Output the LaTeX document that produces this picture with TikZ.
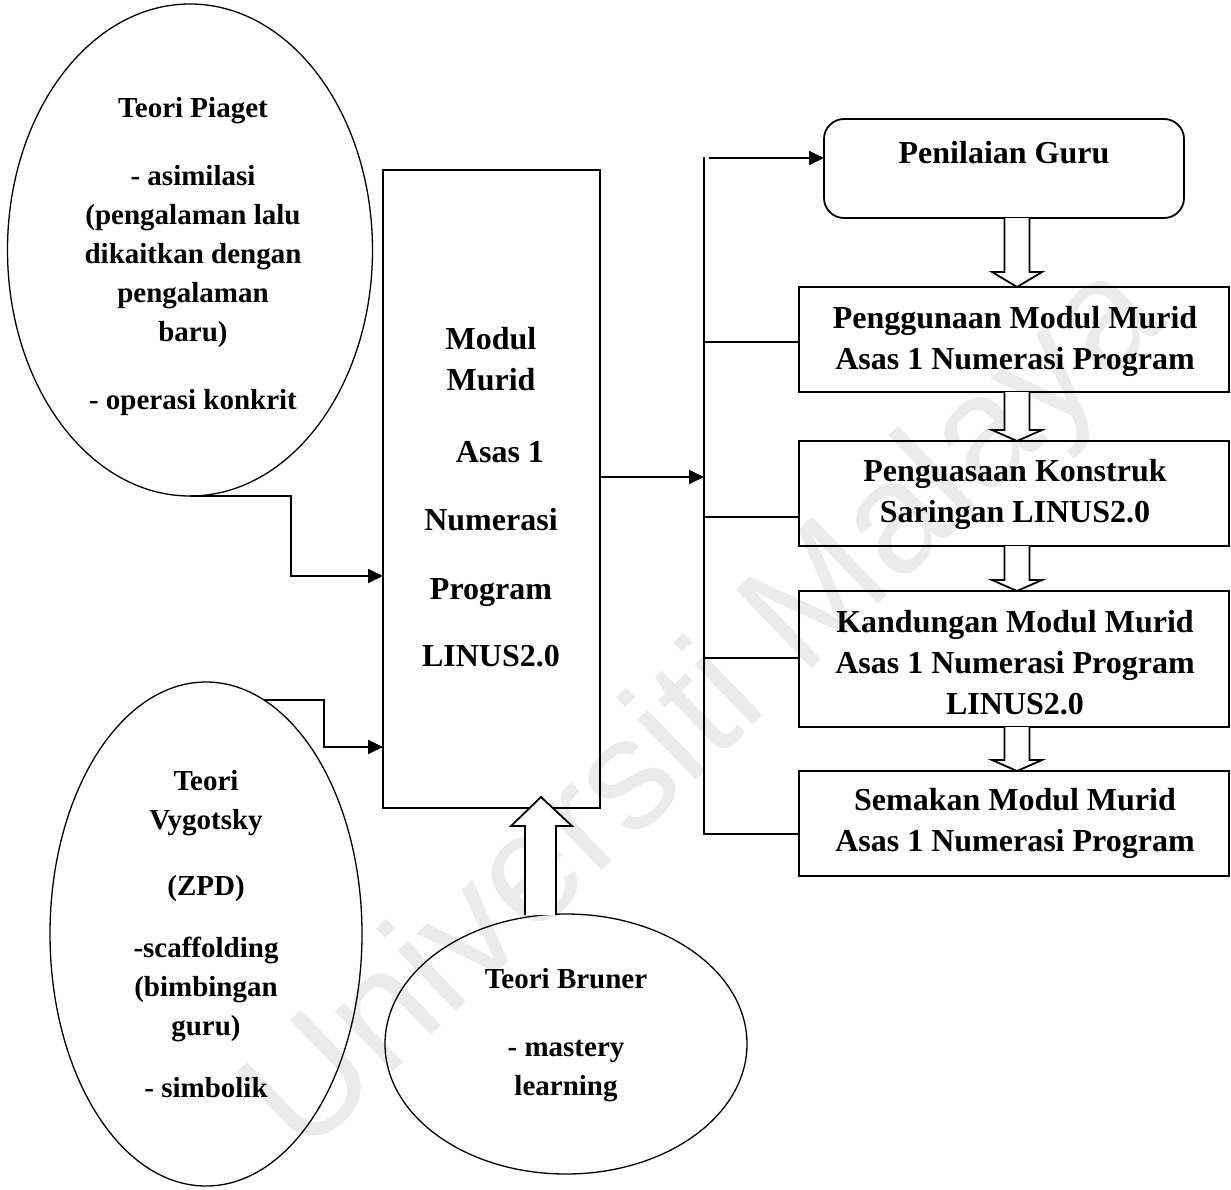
\documentclass[tikz,border=0pt]{standalone}
\usepackage{fontspec}
\setmainfont{Liberation Serif}
\setsansfont{Liberation Sans}
\usetikzlibrary{shapes.geometric,arrows.meta,calc}
\newcommand\dnblk[3]{\draw[blk] let \p1=(#1.south), \p2=(#2.north) in
  (1004.5pt,\y1) -- (1004.5pt,\y2+#3) -- (992pt,\y2+#3) -- (1017pt,\y2) --
  (1042pt,\y2+#3) -- (1029.5pt,\y2+#3) -- (1029.5pt,\y1);}
\begin{document}
\begin{tikzpicture}[x=1pt,y=-1pt,
  ell/.style={draw,ellipse,line width=1.3pt,inner sep=0pt,outer sep=0pt},
  box/.style={draw,rectangle,line width=1.8pt,inner sep=0pt,outer sep=0pt},
  etxt/.style={align=center,font=\bfseries\fontsize{29}{39}\selectfont,inner sep=0pt,anchor=north},
  btxt/.style={align=center,font=\bfseries\fontsize{32}{41}\selectfont,inner sep=0pt,anchor=north},
  conn/.style={line width=1.8pt},
  arr/.style={conn,-{Triangle[length=15pt,width=14pt]}},
  blk/.style={draw,fill=white,line width=1.8pt,line join=miter},
  wmark/.style={font=\sffamily\fontsize{158}{158}\selectfont,text=black!8,rotate=44,inner sep=0pt}
]
\useasboundingbox (0,0) rectangle (1231,1189);
% watermark
\node[wmark] (wm) at (708,712) {Universiti Malaya};
% ellipses
\node[ell,minimum width=365pt,minimum height=492pt] (pia) at (190,250) {};
\node[ell,minimum width=312pt,minimum height=504pt] (vyg) at (206,934) {};
\node[ell,minimum width=362pt,minimum height=260pt] (bru) at (566,1044) {};
% main box
\node[box,minimum width=217pt,minimum height=638pt] (main) at (491.5,489) {};
% up block arrow from Bruner
\draw[blk] let \p1=(bru.north), \p2=(main.south) in
  (525pt,\y1-1pt) -- (525pt,\y2-18pt) -- (511pt,\y2-18pt) -- (541pt,\y2+11pt) --
  (572pt,\y2-18pt) -- (556pt,\y2-18pt) -- (556pt,\y1-1pt);
% right column boxes
\node[box,rounded corners=20pt,minimum width=360pt,minimum height=99pt] (pg) at (1004,168.5) {};
\node[box,minimum width=430pt,minimum height=105pt] (b1) at (1014,339.5) {};
\node[box,minimum width=430pt,minimum height=105pt] (b2) at (1014,493.5) {};
\node[box,minimum width=430pt,minimum height=136pt] (b3) at (1014,659) {};
\node[box,minimum width=430pt,minimum height=105pt] (b4) at (1014,823.5) {};
\dnblk{pg}{b1}{15pt}
\dnblk{b1}{b2}{11pt}
\dnblk{b2}{b3}{11pt}
\dnblk{b3}{b4}{11pt}
% texts
\node[etxt] (piat) at (193,97) {Teori Piaget\\[29pt]- asimilasi\\(pengalaman lalu\\dikaitkan dengan\\pengalaman\\baru)\\[29pt]- operasi konkrit};
\node[etxt] (vygt) at (206,770) {Teori\\Vygotsky\\[27pt](ZPD)\\[23pt]-scaffolding\\(bimbingan\\guru)\\[23pt]- simbolik};
\node[etxt] (brut) at (566,968) {Teori Bruner\\[29pt]- mastery\\learning};
\node[btxt] (maint) at (491,327) {Modul\\Murid\\[31pt]\hspace*{18pt}Asas 1\\[27pt]Numerasi\\[28pt]Program\\[26pt]LINUS2.0};
\node[btxt] (pgt) at (1004,141) {Penilaian Guru};
\node[btxt] (b1t) at (1015,306) {Penggunaan Modul Murid\\Asas 1 Numerasi Program};
\node[btxt] (b2t) at (1015,459) {Penguasaan Konstruk\\Saringan LINUS2.0};
\node[btxt] (b3t) at (1015,610) {Kandungan Modul Murid\\Asas 1 Numerasi Program\\LINUS2.0};
\node[btxt] (b4t) at (1015,788) {Semakan Modul Murid\\Asas 1 Numerasi Program};
% connectors
\coordinate (vt) at (704,157);
\coordinate (vb) at (704,834);
\coordinate (at) at (709,158);
\coordinate (l1) at (704,342);
\coordinate (l2) at (704,517);
\coordinate (l3) at (704,658);
\coordinate (m1) at (704,477);
\coordinate (pc) at (291,576);
\coordinate (vc) at (324,747);
\draw[conn] (vt) -- (vb) -- (vb -| b4.west);
\draw[arr] (at) -- (at -| pg.west);
\draw[conn] (l1) -- (l1 -| b1.west);
\draw[conn] (l2) -- (l2 -| b2.west);
\draw[conn] (l3) -- (l3 -| b3.west);
\draw[arr] (main.east |- m1) -- (m1);
\draw[arr] (pia.south) -| (pc) -- (pc -| main.west);
\draw[arr] (vyg.76) -| (vc) -- (vc -| main.west);
\end{tikzpicture}
\end{document}
